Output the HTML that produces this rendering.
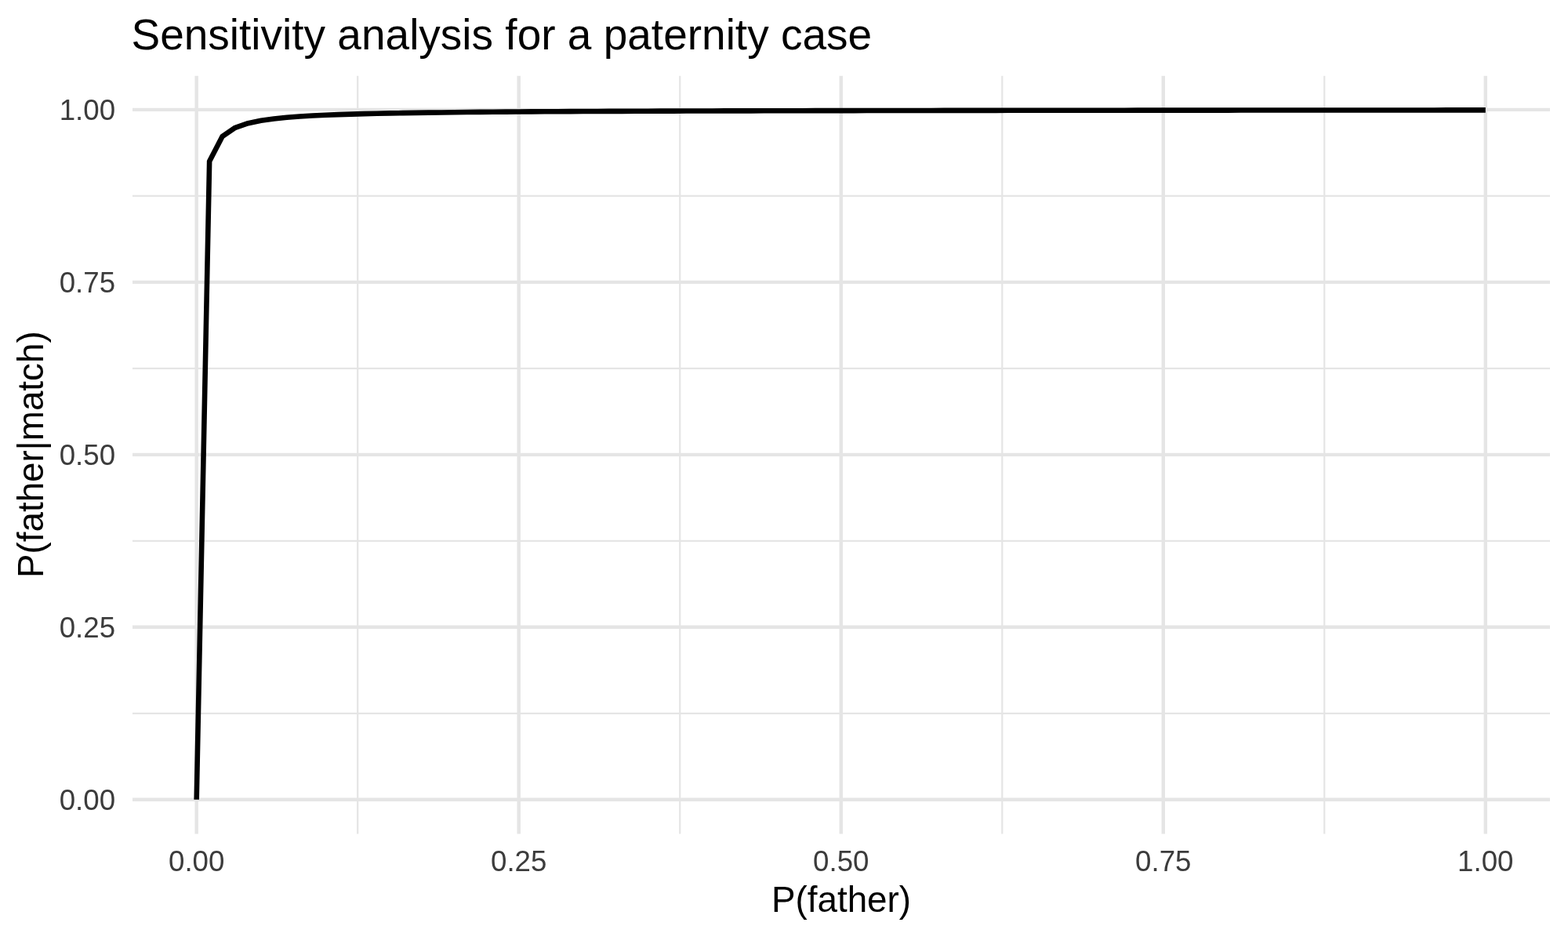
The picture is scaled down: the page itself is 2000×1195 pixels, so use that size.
<!DOCTYPE html>
<html><head><meta charset="utf-8"><title>Sensitivity analysis for a paternity case</title>
<style>
html,body{margin:0;padding:0;background:#fff;}
body{width:2000px;height:1195px;overflow:hidden;}
svg{display:block;}
text{font-family:"Liberation Sans",Arial,Helvetica,sans-serif;}
.mi{stroke:#E5E5E5;stroke-width:2.22;fill:none;}
.ma{stroke:#E5E5E5;stroke-width:4.44;fill:none;}
.cv{stroke:#000;stroke-width:6.6;fill:none;stroke-linejoin:round;stroke-linecap:butt;}
.tk{font-size:36.7px;fill:#3C3C3C;}
.ti{font-size:55px;fill:#000;}
.at{font-size:45.8px;fill:#000;}
</style></head>
<body>
<svg width="2000" height="1195" viewBox="0 0 2000 1195">
<rect width="2000" height="1195" fill="#fff"/>
<line x1="169" x2="1977" y1="909.81" y2="909.81" class="mi"/>
<line y1="96.8" y2="1063.4" x1="456.21" x2="456.21" class="mi"/>
<line x1="169" x2="1977" y1="689.84" y2="689.84" class="mi"/>
<line y1="96.8" y2="1063.4" x1="867.24" x2="867.24" class="mi"/>
<line x1="169" x2="1977" y1="469.86" y2="469.86" class="mi"/>
<line y1="96.8" y2="1063.4" x1="1278.26" x2="1278.26" class="mi"/>
<line x1="169" x2="1977" y1="249.89" y2="249.89" class="mi"/>
<line y1="96.8" y2="1063.4" x1="1689.29" x2="1689.29" class="mi"/>
<line x1="169" x2="1977" y1="1019.8" y2="1019.8" class="ma"/>
<line y1="96.8" y2="1063.4" x1="250.7" x2="250.7" class="ma"/>
<line x1="169" x2="1977" y1="799.82" y2="799.82" class="ma"/>
<line y1="96.8" y2="1063.4" x1="661.72" x2="661.72" class="ma"/>
<line x1="169" x2="1977" y1="579.85" y2="579.85" class="ma"/>
<line y1="96.8" y2="1063.4" x1="1072.75" x2="1072.75" class="ma"/>
<line x1="169" x2="1977" y1="359.88" y2="359.88" class="ma"/>
<line y1="96.8" y2="1063.4" x1="1483.77" x2="1483.77" class="ma"/>
<line x1="169" x2="1977" y1="139.9" y2="139.9" class="ma"/>
<line y1="96.8" y2="1063.4" x1="1894.8" x2="1894.8" class="ma"/>
<polyline points="250.7,1019.8 267.14,205.66 283.58,173.96 300.02,162.84 316.46,157.16 332.9,153.72 349.35,151.42 365.79,149.76 382.23,148.51 398.67,147.54 415.11,146.76 431.55,146.12 447.99,145.59 464.43,145.14 480.87,144.75 497.31,144.42 513.76,144.12 530.2,143.86 546.64,143.63 563.08,143.43 579.52,143.24 595.96,143.07 612.4,142.92 628.84,142.78 645.28,142.65 661.72,142.53 678.17,142.42 694.61,142.32 711.05,142.23 727.49,142.14 743.93,142.06 760.37,141.98 776.81,141.91 793.25,141.84 809.69,141.78 826.13,141.72 842.58,141.66 859.02,141.61 875.46,141.56 891.9,141.51 908.34,141.47 924.78,141.42 941.22,141.38 957.66,141.34 974.1,141.31 990.55,141.27 1006.99,141.24 1023.43,141.2 1039.87,141.17 1056.31,141.14 1072.75,141.11 1089.19,141.08 1105.63,141.06 1122.07,141.03 1138.51,141.01 1154.95,140.98 1171.4,140.96 1187.84,140.94 1204.28,140.92 1220.72,140.89 1237.16,140.87 1253.6,140.86 1270.04,140.84 1286.48,140.82 1302.92,140.8 1319.37,140.78 1335.81,140.77 1352.25,140.75 1368.69,140.73 1385.13,140.72 1401.57,140.71 1418.01,140.69 1434.45,140.68 1450.89,140.66 1467.33,140.65 1483.77,140.64 1500.22,140.62 1516.66,140.61 1533.1,140.6 1549.54,140.59 1565.98,140.58 1582.42,140.57 1598.86,140.56 1615.3,140.55 1631.74,140.54 1648.18,140.53 1664.63,140.52 1681.07,140.51 1697.51,140.5 1713.95,140.49 1730.39,140.48 1746.83,140.47 1763.27,140.46 1779.71,140.45 1796.15,140.45 1812.59,140.44 1829.04,140.43 1845.48,140.42 1861.92,140.41 1878.36,140.41 1894.8,140.4" class="cv"/>
<text x="147.1" y="1033" class="tk" text-anchor="end">0.00</text>
<text x="250.7" y="1111" class="tk" text-anchor="middle">0.00</text>
<text x="147.1" y="813.02" class="tk" text-anchor="end">0.25</text>
<text x="661.72" y="1111" class="tk" text-anchor="middle">0.25</text>
<text x="147.1" y="593.05" class="tk" text-anchor="end">0.50</text>
<text x="1072.75" y="1111" class="tk" text-anchor="middle">0.50</text>
<text x="147.1" y="373.07" class="tk" text-anchor="end">0.75</text>
<text x="1483.77" y="1111" class="tk" text-anchor="middle">0.75</text>
<text x="147.1" y="153.1" class="tk" text-anchor="end">1.00</text>
<text x="1894.8" y="1111" class="tk" text-anchor="middle">1.00</text>
<text x="167.5" y="62.8" class="ti">Sensitivity analysis for a paternity case</text>
<text x="1073" y="1163.1" class="at" text-anchor="middle">P(father)</text>
<text transform="translate(54.9,579.7) rotate(-90)" x="0" y="0" class="at" text-anchor="middle">P(father|match)</text>
</svg>
</body></html>
